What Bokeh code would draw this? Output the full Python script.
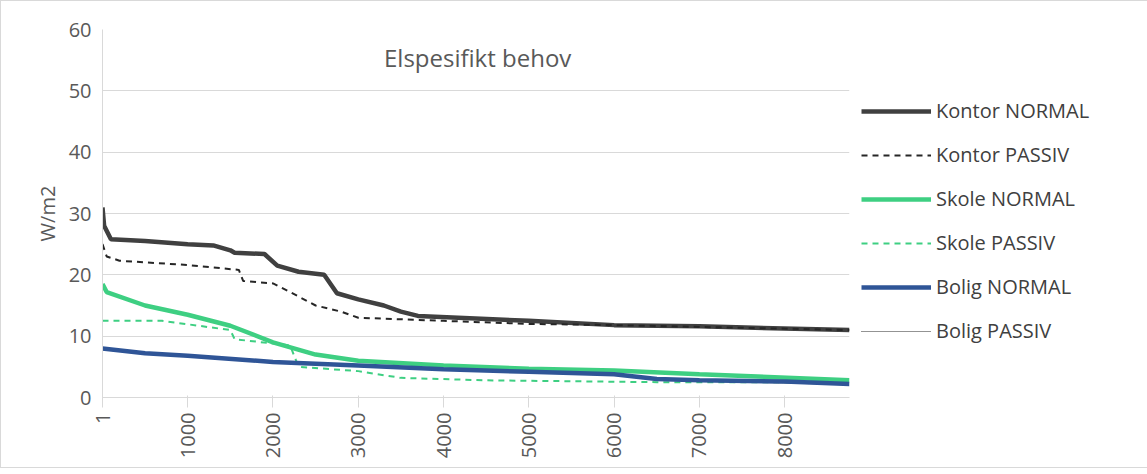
import numpy as np
from bokeh.plotting import figure
from bokeh.models import Legend, FixedTicker, Label
from bokeh.embed import file_html
from bokeh.resources import INLINE

# timer sortert (varighetskurve)
kontor_n_x = [1, 20, 100, 500, 1000, 1300, 1500, 1550, 1900, 2050, 2300, 2600, 2750, 3000, 3300, 3500, 3700, 5000, 6000, 7000, 8760]
kontor_n_y = [31, 28, 25.8, 25.5, 25, 24.8, 24, 23.6, 23.4, 21.5, 20.5, 20, 17, 16, 15, 14, 13.3, 12.5, 11.8, 11.6, 11]
kontor_p_x = [1, 50, 200, 1000, 1600, 1650, 2000, 2200, 2500, 2800, 3000, 4000, 5000, 6000, 8760]
kontor_p_y = [25, 23, 22.3, 21.6, 20.8, 19, 18.6, 17.2, 15, 14, 13, 12.5, 12, 11.8, 11]
skole_n_x = [1, 50, 500, 1000, 1500, 2000, 2500, 3000, 4000, 5000, 6000, 7000, 8760]
skole_n_y = [18.5, 17.2, 15, 13.5, 11.7, 9, 7, 6, 5.2, 4.7, 4.4, 3.8, 2.8]
skole_p_x = [1, 700, 1500, 1550, 2200, 2300, 3000, 3500, 4500, 6500, 8760]
skole_p_y = [12.5, 12.5, 11, 9.5, 8.5, 5, 4.3, 3.2, 2.8, 2.5, 2.5]
bolig_n_x = [1, 500, 1000, 2000, 3000, 4000, 5000, 6000, 6500, 7000, 8000, 8760]
bolig_n_y = [8, 7.2, 6.8, 5.8, 5.2, 4.6, 4.2, 3.8, 3.0, 2.8, 2.6, 2.2]
bolig_p_x = [1, 500, 1000, 2000, 3000, 4000, 5000, 6000, 7000, 8760]
bolig_p_y = [7.8, 7.1, 6.7, 5.7, 5.1, 4.5, 4.1, 3.6, 2.7, 2.1]

x_ticks = [1, 1000, 2000, 3000, 4000, 5000, 6000, 7000, 8000]

p = figure(frame_width=747, frame_height=368, x_range=(1, 8760), y_range=(0, 60),
           output_backend="svg", toolbar_location=None,
           min_border_left=101, min_border_top=28, min_border_bottom=70,
           min_border_right=283)
p.styles = {"border": "1px solid #d9d9d9"}
p.outline_line_color = None

r1 = p.line(kontor_n_x, kontor_n_y, line_width=4.5, color="#404040")
r2 = p.line(kontor_p_x, kontor_p_y, line_width=2, color="#262626", line_dash="6 5")
r3 = p.line(skole_n_x, skole_n_y, line_width=4.5, color="#3ecf82")
r4 = p.line(skole_p_x, skole_p_y, line_width=2, color="#3ecf82", line_dash="6 5")
r6 = p.line(bolig_p_x, bolig_p_y, line_width=1, color="#262626", line_dash="1 1")
r5 = p.line(bolig_n_x, bolig_n_y, line_width=4.5, color="#2f5597")

legend = Legend(items=[("Kontor NORMAL", [r1]), ("Kontor PASSIV", [r2]),
                       ("Skole NORMAL", [r3]), ("Skole PASSIV", [r4]),
                       ("Bolig NORMAL", [r5]), ("Bolig PASSIV", [r6])],
                label_text_font="Open Sans", label_text_font_size="20px",
                label_text_color="#404040", border_line_color=None,
                background_fill_alpha=0, location=(12, 53),
                glyph_width=70, glyph_height=22, label_height=22,
                spacing=17, margin=0, padding=4)
p.add_layout(legend, "right")

p.add_layout(Label(x=4400, y=55.5, text="Elspesifikt behov", text_align="center",
                   text_baseline="middle", text_font="Open Sans",
                   text_font_size="24px", text_color="#595959"))

p.xaxis.ticker = FixedTicker(ticks=x_ticks)
p.xaxis.major_label_orientation = np.pi / 2
p.yaxis.ticker = FixedTicker(ticks=[0, 10, 20, 30, 40, 50, 60])
p.yaxis.axis_label = "W/m2"
for ax in (p.xaxis, p.yaxis):
    ax.major_label_text_font = "Open Sans"
    ax.major_label_text_font_size = "20px"
    ax.major_label_text_color = "#595959"
    ax.axis_line_color = "#d9d9d9"
    ax.major_tick_line_color = "#d9d9d9"
    ax.minor_tick_line_color = None
p.yaxis.axis_label_text_font = "Open Sans"
p.yaxis.axis_label_text_font_style = "normal"
p.yaxis.axis_label_text_font_size = "20px"
p.yaxis.axis_label_text_color = "#595959"
p.yaxis.major_tick_line_color = None
p.xaxis.major_tick_out = 10
p.xgrid.grid_line_color = None
p.ygrid.grid_line_color = "#d9d9d9"

open("out.html", "w").write(file_html(p, INLINE))
